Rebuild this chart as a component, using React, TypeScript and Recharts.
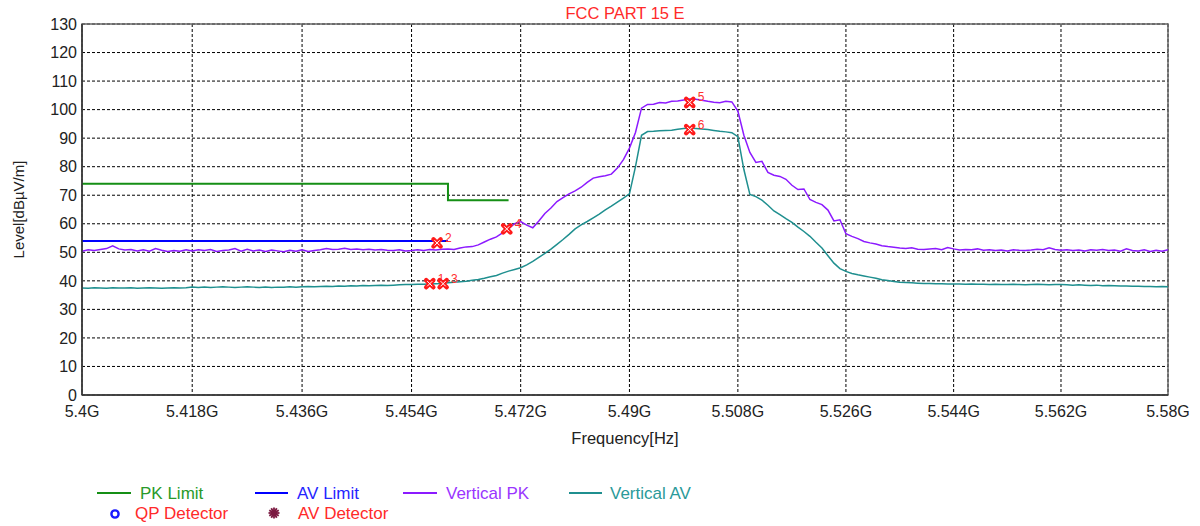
import React from "react";
import {
  ComposedChart,
  Line,
  Scatter,
  XAxis,
  YAxis,
  CartesianGrid,
  ReferenceArea,
} from "recharts";

// Sweep grid (MHz)
const sweepStartMHz = 5400;
const sweepStepMHz = 1;

// Vertical PK trace (dBµV/m), one value per MHz from 5400 to 5580 MHz
const verticalPk = [
  50.4, 50.9, 50.6, 51.0, 51.3, 52.3, 51.2, 50.8, 51.0, 50.5,
  50.9, 50.4, 51.3, 50.7, 50.3, 50.6, 50.4, 50.9, 50.5, 50.9,
  50.6, 51.0, 50.3, 50.6, 50.8, 51.3, 50.4, 51.1, 50.5, 50.8,
  50.3, 50.8, 50.5, 50.2, 50.7, 50.4, 50.9, 50.3, 50.6, 50.9,
  51.3, 51.0, 51.1, 51.4, 51.0, 51.2, 50.9, 51.1, 50.8, 51.0,
  50.7, 50.6, 50.9, 50.5, 50.6, 50.9, 50.6, 51.0, 50.8, 51.1,
  51.2, 51.0, 51.5, 51.9, 52.0, 52.6, 53.6, 54.6, 55.4, 56.8,
  58.3, 60.0, 60.8, 59.5, 58.6, 61.0, 63.6, 65.5, 67.8, 69.2,
  70.5, 71.5, 72.8, 74.5, 76.0, 76.5, 76.8, 77.4, 79.5, 82.5,
  86.5, 92.0, 100.5, 101.8, 101.9, 102.5, 102.3, 102.9, 103.0, 103.4,
  103.7, 103.6, 103.3, 102.9, 102.6, 102.4, 102.9, 102.7, 99.5, 91.0,
  85.0, 81.5, 81.9, 78.0, 77.0, 76.6, 75.6, 73.5, 72.0, 72.2,
  68.5, 67.5, 66.7, 64.8, 61.0, 61.4, 56.5, 55.6, 54.8, 53.8,
  53.3, 52.9, 52.3, 52.0, 51.8, 51.5, 51.3, 51.6, 51.1, 51.0,
  51.2, 51.3, 50.9, 51.7, 51.2, 50.8, 51.0, 50.9, 51.2, 50.7,
  50.9, 50.6, 50.8, 50.5, 50.9, 50.7, 50.6, 50.8, 51.1, 50.9,
  51.6, 51.0, 50.7, 50.9, 50.6, 50.8, 50.5, 50.9, 50.7, 51.0,
  50.6, 50.8, 50.4, 51.2, 50.6, 50.5, 50.9, 50.3, 50.7, 50.4,
  50.9,
];

// Vertical AV trace (dBµV/m), one value per MHz from 5400 to 5580 MHz
const verticalAv = [
  37.5, 37.4, 37.6, 37.5, 37.4, 37.6, 37.5, 37.5, 37.6, 37.4,
  37.5, 37.6, 37.5, 37.4, 37.5, 37.6, 37.5, 37.6, 37.8, 37.7,
  37.8, 37.7, 37.8, 37.9, 37.8, 37.7, 37.8, 37.9, 37.8, 37.7,
  37.8, 37.7, 37.8, 37.8, 37.9, 37.8, 37.9, 38.0, 37.9, 38.0,
  38.1, 38.0, 38.2, 38.1, 38.3, 38.2, 38.4, 38.3, 38.4, 38.5,
  38.4, 38.5, 38.6, 38.7, 38.7, 38.8, 38.8, 38.9, 39.0, 39.1,
  39.3, 39.5, 39.7, 39.9, 40.2, 40.5, 40.9, 41.4, 41.9, 42.7,
  43.4, 44.0, 44.6, 45.6, 46.8, 48.2, 49.6, 51.1, 52.8, 54.5,
  56.3, 58.2, 59.6, 60.8, 62.1, 63.4, 64.9, 66.2, 67.6, 69.0,
  70.5, 80.0, 91.0, 92.3, 92.4, 92.6, 92.7, 92.8, 93.1, 93.4,
  93.6, 93.4, 93.2, 93.0, 92.7, 92.4, 92.2, 91.9, 90.5, 79.0,
  70.3, 69.5, 68.3, 66.5, 64.5, 63.2, 61.8, 60.5, 58.8, 57.3,
  55.6, 53.5, 51.5, 48.8, 46.2, 44.3, 43.3, 42.6, 42.1, 41.7,
  41.3, 40.9, 40.4, 40.1, 39.8, 39.5, 39.4, 39.3, 39.2, 39.1,
  39.1, 39.0, 39.0, 38.9, 38.9, 38.9, 38.8, 38.9, 38.8, 38.8,
  38.7, 38.8, 38.7, 38.7, 38.8, 38.7, 38.6, 38.7, 38.8, 38.7,
  38.6, 38.7, 38.7, 38.6, 38.5, 38.6, 38.5, 38.4, 38.5, 38.3,
  38.4, 38.3, 38.2, 38.2, 38.1, 38.1, 38.0, 38.0, 37.9, 38.0,
  37.9,
];

// Limit lines
const pkLimitFreq = [5400, 5460, 5460, 5470];
const pkLimitLevel = [74, 74, 68.2, 68.2];
const avLimitFreq = [5400, 5460];
const avLimitLevel = [54, 54];

// Measurement markers
const markerIds = [1, 2, 3, 4, 5, 6];
const markerFreq = [5457.0, 5458.2, 5459.2, 5469.7, 5500.0, 5500.0];
const markerLevel = [39.0, 53.3, 39.0, 58.2, 102.5, 93.0];

// Axis ticks
const xTicks = [5400, 5418, 5436, 5454, 5472, 5490, 5508, 5526, 5544, 5562, 5580];
const yTicks = [0, 10, 20, 30, 40, 50, 60, 70, 80, 90, 100, 110, 120, 130];

const FONT = "'Liberation Sans', Arial, sans-serif";

const pkData = verticalPk.map((v, i) => ({ f: sweepStartMHz + i * sweepStepMHz, v }));
const avData = verticalAv.map((v, i) => ({ f: sweepStartMHz + i * sweepStepMHz, v }));
const pkLimitData = pkLimitFreq.map((f, i) => ({ f, v: pkLimitLevel[i] }));
const avLimitData = avLimitFreq.map((f, i) => ({ f, v: avLimitLevel[i] }));
const markerData = markerFreq.map((f, i) => ({ f, v: markerLevel[i], id: markerIds[i] }));

const MarkerShape = (props: any) => {
  const { cx, cy, payload } = props;
  if (cx == null || cy == null) return null;
  const a = 3.6;
  const b = 2.6;
  return (
    <g>
      <line x1={cx - a} y1={cy - a} x2={cx + a} y2={cy + a} stroke="#ff1a1a" strokeWidth={4.4} strokeLinecap="round" />
      <line x1={cx - a} y1={cy + a} x2={cx + a} y2={cy - a} stroke="#ff1a1a" strokeWidth={4.4} strokeLinecap="round" />
      <line x1={cx - b} y1={cy - b} x2={cx + b} y2={cy + b} stroke="#ffffff" strokeWidth={1} />
      <line x1={cx - b} y1={cy + b} x2={cx + b} y2={cy - b} stroke="#ffffff" strokeWidth={1} />
      <text x={cx + 8} y={cy - 1} fill="#ff3030" fontSize={12} fontFamily={FONT}>
        {payload.id}
      </text>
    </g>
  );
};

const YTitle = (props: any) => {
  const vb = props.viewBox || { x: 0, y: 24, width: 82, height: 371 };
  const cx = vb.x + 18;
  const cy = vb.y + vb.height / 2;
  return (
    <text
      x={cx}
      y={cy}
      transform={`rotate(-90, ${cx}, ${cy})`}
      textAnchor="middle"
      dominantBaseline="central"
      fontSize={15}
      fontFamily={FONT}
      fill="#222"
    >
      Level[dBµV/m]
    </text>
  );
};

const XTitle = (props: any) => {
  const vb = props.viewBox || { x: 82, y: 395, width: 1086, height: 131 };
  const cx = vb.x + vb.width / 2;
  const cy = vb.y + 43;
  return (
    <text x={cx} y={cy} textAnchor="middle" dominantBaseline="central" fontSize={16.5} fontFamily={FONT} fill="#222">
      Frequency[Hz]
    </text>
  );
};

const legendRow1 = [
  { label: "PK Limit", color: "#158f15", text: "#2a9a2a", x1: 97, x2: 131, tx: 140 },
  { label: "AV Limit", color: "#0000ff", text: "#2525ff", x1: 255, x2: 288, tx: 297 },
  { label: "Vertical PK", color: "#8c1aff", text: "#9a35ff", x1: 403, x2: 437, tx: 446 },
  { label: "Vertical AV", color: "#1f8f8f", text: "#2a9a9a", x1: 569, x2: 602, tx: 610 },
];

export default function App() {
  return (
    <div style={{ position: "absolute", left: 0, top: 0, width: 1200, height: 526, background: "#fff" }}>
      <ComposedChart
        width={1200}
        height={526}
        margin={{ top: 24, right: 32, bottom: 0, left: 0 }}
        style={{ position: "absolute", left: 0, top: 0 }}
      >
        <CartesianGrid stroke="#000" strokeDasharray="3 2" strokeWidth={1} />
        <XAxis
          dataKey="f"
          type="number"
          scale="log"
          domain={[5400, 5580]}
          allowDataOverflow
          ticks={xTicks}
          interval={0}
          tickFormatter={(v: number) => `${v / 1000}G`}
          tickLine={false}
          tickSize={0}
          tickMargin={11}
          height={131}
          axisLine={{ stroke: "#333", strokeWidth: 1.5 }}
          tick={{ fill: "#222", fontSize: 16, fontFamily: FONT }}
          label={{ content: (p: any) => <XTitle {...p} /> }}
        />
        <YAxis
          dataKey="v"
          type="number"
          domain={[0, 130]}
          ticks={yTicks}
          interval={0}
          tickLine={false}
          tickSize={0}
          tickMargin={5}
          width={82}
          axisLine={{ stroke: "#333", strokeWidth: 1.5 }}
          tick={{ fill: "#222", fontSize: 16, fontFamily: FONT }}
          label={{ content: (p: any) => <YTitle {...p} /> }}
        />
        <ReferenceArea
          x1={5400}
          x2={5580}
          y1={0}
          y2={130}
          fill="none"
          fillOpacity={0}
          stroke="#666"
          strokeWidth={1.5}
          ifOverflow="visible"
        />
        <Line data={pkLimitData} dataKey="v" type="linear" stroke="#158f15" strokeWidth={2} dot={false} isAnimationActive={false} />
        <Line data={avLimitData} dataKey="v" type="linear" stroke="#0000ff" strokeWidth={2} dot={false} isAnimationActive={false} />
        <Line data={avData} dataKey="v" type="linear" stroke="#1f8f8f" strokeWidth={1.5} dot={false} isAnimationActive={false} />
        <Line data={pkData} dataKey="v" type="linear" stroke="#8c1aff" strokeWidth={1.5} dot={false} isAnimationActive={false} />
        <Scatter data={markerData} dataKey="v" shape={<MarkerShape />} isAnimationActive={false} />
      </ComposedChart>
      <svg
        width={1200}
        height={526}
        style={{ position: "absolute", left: 0, top: 0, pointerEvents: "none" }}
      >
        <text x={625} y={19} textAnchor="middle" fontSize={16.5} fontFamily={FONT} fill="#ff2a2a">
          FCC PART 15 E
        </text>
        {legendRow1.map((it) => (
          <g key={it.label}>
            <line x1={it.x1} y1={493} x2={it.x2} y2={493} stroke={it.color} strokeWidth={2} />
            <text x={it.tx} y={499} fontSize={17} fontFamily={FONT} fill={it.text}>
              {it.label}
            </text>
          </g>
        ))}
        <circle cx={115} cy={514} r={3.6} fill="none" stroke="#1a1aff" strokeWidth={2.4} />
        <text x={135} y={519} fontSize={17} fontFamily={FONT} fill="#ff2a2a">
          QP Detector
        </text>
        <g transform="translate(274,513)">
          {[0, 30, 60, 90, 120, 150].map((a) => (
            <line
              key={a}
              x1={-5.5 * Math.cos((a * Math.PI) / 180)}
              y1={-5.5 * Math.sin((a * Math.PI) / 180)}
              x2={5.5 * Math.cos((a * Math.PI) / 180)}
              y2={5.5 * Math.sin((a * Math.PI) / 180)}
              stroke="#7a1840"
              strokeWidth={1.8}
            />
          ))}
          <circle cx={0} cy={0} r={3} fill="#7a1840" />
        </g>
        <text x={298} y={519} fontSize={17} fontFamily={FONT} fill="#ff2a2a">
          AV Detector
        </text>
      </svg>
    </div>
  );
}
